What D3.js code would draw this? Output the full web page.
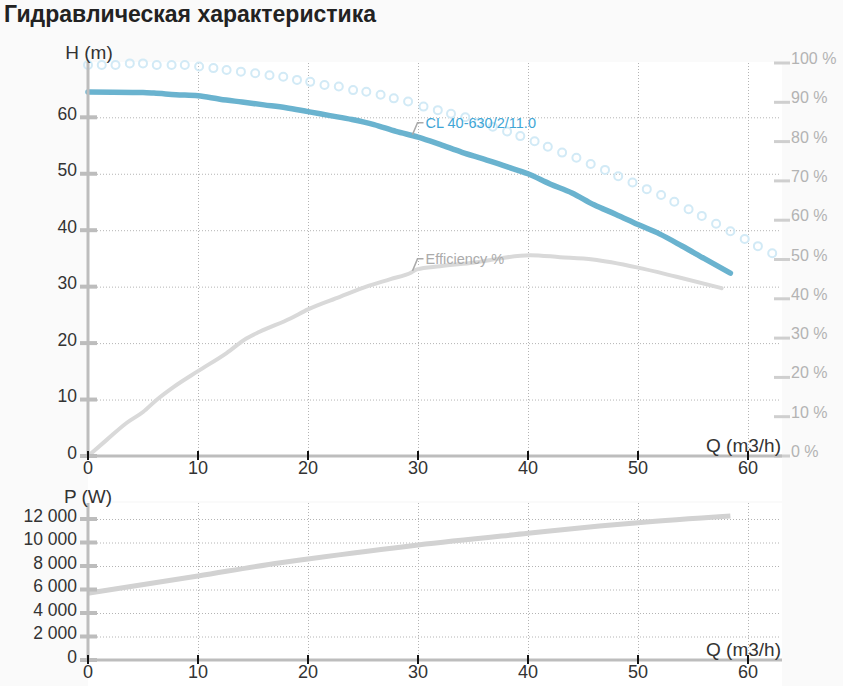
<!DOCTYPE html>
<html>
<head>
<meta charset="utf-8">
<script src="https://cdn.jsdelivr.net/npm/d3@7"></script>
<style>
  html, body { margin: 0; padding: 0; background: #fafafa; }
  body { width: 843px; height: 686px; overflow: hidden; font-family: "Liberation Sans", Arial, sans-serif; }
  svg { display: block; }
  .grid line { stroke: #b4b4b4; stroke-width: 1; stroke-dasharray: 1 2; }
</style>
</head>
<body>
<svg id="chart" width="843" height="686"></svg>
<script>
// ---- data ----
const flowTicks = [0, 10, 20, 30, 40, 50, 60];
const headTicks = [0, 10, 20, 30, 40, 50, 60];
const pctTicks = [0, 10, 20, 30, 40, 50, 60, 70, 80, 90, 100];
const powerTicks = [0, 2000, 4000, 6000, 8000, 10000, 12000];

// pump head curve, Q (m3/h) -> H (m)
const headQ = [0, 5, 6, 8, 10, 12, 14, 16, 18, 20, 22, 24, 26, 28, 30, 32, 34, 36, 38, 40, 42, 44, 46, 48, 50, 52, 54, 56, 58.4];
const headH = [64.5, 64.4, 64.3, 64.0, 63.8, 63.2, 62.7, 62.2, 61.7, 61.0, 60.3, 59.6, 58.7, 57.5, 56.5, 55.2, 53.8, 52.6, 51.3, 50.0, 48.2, 46.6, 44.5, 42.8, 41.0, 39.3, 37.2, 35.0, 32.4];

// efficiency curve, Q -> %
const effQ = [0, 1.7, 3.5, 5, 6.2, 7.8, 10, 12.6, 14.4, 15.6, 18.4, 20, 22.9, 25.3, 27.5, 29.4, 29.9, 32, 35, 40.2, 42.9, 45.9, 49.9, 53.5, 57.6];
const effPct = [0, 4.1, 8.4, 11.2, 14.2, 17.6, 21.6, 26.2, 29.9, 31.6, 35.0, 37.3, 40.5, 43.1, 45.0, 46.7, 47.5, 48.3, 49.2, 51.1, 50.6, 50.0, 48.0, 45.6, 42.7];

// dotted series, Q -> %
const dotQ = [0, 1.25, 2.5, 3.8, 5.0, 6.25, 7.6, 8.8, 10.1, 11.4, 12.6, 13.9, 15.2, 16.5, 17.75, 19.0, 20.2, 21.5, 22.8, 24.1,
  25.3, 26.6, 27.8, 29.1, 30.5, 31.8, 33.0, 34.3, 35.5, 36.8, 38.1, 39.3, 40.6, 41.8, 43.1, 44.4, 45.7, 47.0, 48.2, 49.5,
  50.8, 52.1, 53.3, 54.6, 55.8, 57.1, 58.4, 59.7, 60.9, 62.2];
const dotPct = [99.5, 99.5, 99.5, 99.9, 99.9, 99.5, 99.5, 99.5, 99.1, 98.7, 98.2, 97.8, 97.4, 96.9, 96.5, 95.7, 95.2, 94.4, 94.0, 93.1,
  92.7, 91.9, 91.0, 90.2, 88.9, 88.0, 87.1, 86.2, 84.8, 83.8, 82.6, 81.4, 80.1, 78.7, 77.2, 75.9, 74.3, 72.8, 71.2, 69.6,
  67.9, 66.4, 64.7, 62.8, 61.1, 59.1, 57.2, 55.2, 53.4, 51.6];

// power curve, Q -> W
const powerQ = [0, 10, 17.5, 20, 30, 40, 46.5, 50, 58.4];
const powerW = [5680, 7150, 8280, 8600, 9790, 10780, 11400, 11690, 12260];

const pumpName = 'CL 40-630/2/11.0';
const labelQ = 29.5;

// ---- layout ----
const FONT = '"Liberation Sans", Arial, sans-serif';
const left = 88, right = 782;
const top1 = 62, base1 = 456;
const top2 = 503, base2 = 660;

const svg = d3.select('#chart');

const x = d3.scaleLinear().domain([0, 63]).range([left, left + 63 * 11]);
const yH = d3.scaleLinear().domain([0, 60]).range([base1, 117.3]);
const yPct = d3.scaleLinear().domain([0, 100]).range([base1, 63]);
const yP = d3.scaleLinear().domain([0, 12000]).range([base2, 519]);

const spaced = d3.formatLocale({ decimal: ',', thousands: '\u00a0', grouping: [3], currency: ['', ''] }).format(',');

const zip = (a, b) => a.map((v, i) => [v, b[i]]);
const interp = (xs, ys, q) => {
  const i = Math.max(1, d3.bisectLeft(xs, q));
  const t = (q - xs[i - 1]) / (xs[i] - xs[i - 1]);
  return ys[i - 1] + t * (ys[i] - ys[i - 1]);
};

// title
svg.append('text')
  .attr('x', 4).attr('y', 22)
  .attr('font-family', FONT).attr('font-weight', 'bold').attr('font-size', 23)
  .attr('fill', '#222')
  .text('Гидравлическая характеристика');

// plot backgrounds
svg.append('rect').attr('x', left).attr('y', top1).attr('width', right - left).attr('height', 501 - top1).attr('fill', '#fff');
svg.append('rect').attr('x', left).attr('y', top2).attr('width', right - left).attr('height', 686 - top2).attr('fill', '#fff');

function grid(yScale, yTicks, yTop, yBase) {
  const g = svg.append('g').attr('class', 'grid');
  g.selectAll('line.h').data(yTicks.filter((d) => d > 0)).join('line')
    .attr('x1', left).attr('x2', right - 2)
    .attr('y1', (d) => yScale(d) + 0.5).attr('y2', (d) => yScale(d) + 0.5);
  g.selectAll('line.v').data(flowTicks.filter((d) => d > 0)).join('line')
    .attr('x1', (d) => x(d) + 0.5).attr('x2', (d) => x(d) + 0.5)
    .attr('y1', yTop).attr('y2', yBase);
}

function leftAxis(yScale, ticks, fmt, yTop, yBase) {
  const g = svg.append('g');
  g.append('line').attr('x1', left).attr('x2', left).attr('y1', yTop).attr('y2', yBase)
    .attr('stroke', '#bdbdbd').attr('stroke-width', 3);
  g.selectAll('line.t').data(ticks).join('line')
    .attr('x1', left - 8).attr('x2', left + 9)
    .attr('y1', (d) => yScale(d)).attr('y2', (d) => yScale(d))
    .attr('stroke', '#bdbdbd').attr('stroke-width', 4);
  g.selectAll('text').data(ticks).join('text')
    .attr('x', left - 11).attr('y', (d) => yScale(d) + 2.5)
    .attr('text-anchor', 'end')
    .attr('font-family', FONT).attr('font-size', 17.5).attr('fill', '#333')
    .text(fmt);
}

function bottomAxis(yBase, labelY) {
  const g = svg.append('g');
  g.append('line').attr('x1', left).attr('x2', right).attr('y1', yBase).attr('y2', yBase)
    .attr('stroke', '#bdbdbd').attr('stroke-width', 3);
  g.selectAll('line.t').data(flowTicks).join('line')
    .attr('x1', (d) => x(d)).attr('x2', (d) => x(d))
    .attr('y1', yBase - 5).attr('y2', yBase + 4)
    .attr('stroke', '#111').attr('stroke-width', 2);
  g.selectAll('text').data(flowTicks).join('text')
    .attr('x', (d) => x(d)).attr('y', labelY)
    .attr('text-anchor', 'middle')
    .attr('font-family', FONT).attr('font-size', 18).attr('fill', '#333')
    .text((d) => d);
  g.append('text')
    .attr('x', 781).attr('y', yBase - 4)
    .attr('text-anchor', 'end')
    .attr('font-family', FONT).attr('font-size', 19).attr('fill', '#333')
    .text('Q (m3/h)');
}

// ---- top chart: head + efficiency ----
grid(yH, headTicks, top1 + 1, base1);

// right percent axis
const ra = svg.append('g');
ra.selectAll('line').data(pctTicks).join('line')
  .attr('x1', 774).attr('x2', 790)
  .attr('y1', (d) => yPct(d)).attr('y2', (d) => yPct(d))
  .attr('stroke', '#cfcfcf').attr('stroke-width', 3);
ra.selectAll('text').data(pctTicks).join('text')
  .attr('x', 791).attr('y', (d) => yPct(d) + 1)
  .attr('font-family', FONT).attr('font-size', 16).attr('fill', '#b3b3b3')
  .text((d) => d + ' %');

// dotted circle series
svg.append('g').selectAll('circle').data(zip(dotQ, dotPct)).join('circle')
  .attr('cx', (d) => x(d[0])).attr('cy', (d) => yPct(d[1]))
  .attr('r', 4).attr('fill', 'none')
  .attr('stroke', '#d2eaf6').attr('stroke-width', 2);

// efficiency line
const effLine = d3.line().x((d) => x(d[0])).y((d) => yPct(d[1])).curve(d3.curveMonotoneX);
svg.append('path').datum(zip(effQ, effPct))
  .attr('d', effLine).attr('fill', 'none')
  .attr('stroke', '#d9d9d9').attr('stroke-width', 4).attr('stroke-linecap', 'round');

// head line
const headLine = d3.line().x((d) => x(d[0])).y((d) => yH(d[1])).curve(d3.curveMonotoneX);
svg.append('path').datum(zip(headQ, headH))
  .attr('d', headLine).attr('fill', 'none')
  .attr('stroke', '#6ab3cf').attr('stroke-width', 5.5).attr('stroke-linecap', 'round');

leftAxis(yH, headTicks, (d) => d, top1, base1);
bottomAxis(base1, 474);

svg.append('text')
  .attr('x', 89).attr('y', 59).attr('text-anchor', 'middle')
  .attr('font-family', FONT).attr('font-size', 19).attr('fill', '#333')
  .text('H (m)');

// series labels with leader lines
function seriesLabel(px, py, text, color) {
  const ly = py - 13;
  svg.append('path')
    .attr('d', `M${px},${py - 1}L${px + 5},${ly}L${px + 11},${ly}`)
    .attr('fill', 'none').attr('stroke', '#aaa').attr('stroke-width', 1.5);
  svg.append('text')
    .attr('x', px + 13).attr('y', ly + 5)
    .attr('font-family', FONT).attr('font-size', 14.5).attr('fill', color)
    .text(text);
}
seriesLabel(x(labelQ), yH(interp(headQ, headH, labelQ)), pumpName, '#3fa6d6');
seriesLabel(x(labelQ), yPct(interp(effQ, effPct, labelQ)), 'Efficiency %', '#ababab');

// ---- bottom chart: power ----
grid(yP, powerTicks, top2, base2);

const powerLine = d3.line().x((d) => x(d[0])).y((d) => yP(d[1])).curve(d3.curveMonotoneX);
svg.append('path').datum(zip(powerQ, powerW))
  .attr('d', powerLine).attr('fill', 'none')
  .attr('stroke', '#d2d2d2').attr('stroke-width', 5);

leftAxis(yP, powerTicks, spaced, top2, base2);
bottomAxis(base2, 678);

svg.append('text')
  .attr('x', 88).attr('y', 503).attr('text-anchor', 'middle')
  .attr('font-family', FONT).attr('font-size', 19).attr('fill', '#333')
  .text('P (W)');
</script>
</body>
</html>
